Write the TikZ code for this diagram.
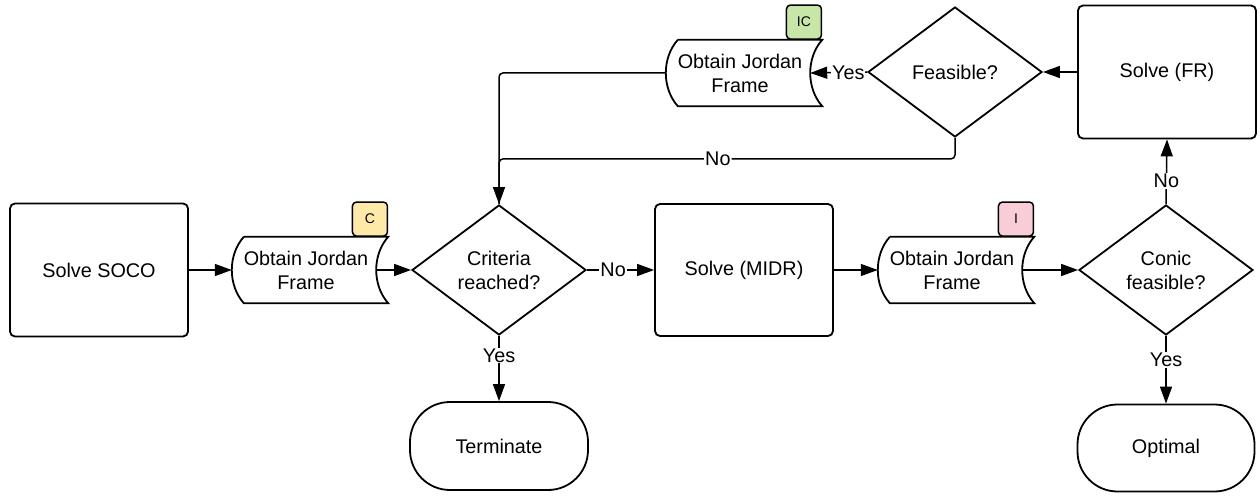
\documentclass[tikz,border=0pt]{standalone}
\usepackage{fontspec}
\setmainfont{Liberation Sans}
\usetikzlibrary{arrows.meta, shapes, positioning}

\definecolor{tagC}{HTML}{FFE9A8}
\definecolor{tagIC}{HTML}{C8E6A8}
\definecolor{tagI}{HTML}{F8CDD8}

\tikzset{
  box/.style={draw, line width=1.8pt, rounded corners=5pt, minimum width=178pt, minimum height=133pt, align=center},
  choice/.style={draw, diamond, aspect=1.34, line width=1.8pt, minimum width=174pt, minimum height=130pt, inner sep=0pt, align=center},
  stopbox/.style={draw, line width=1.8pt, rounded corners=40pt, minimum width=178pt, minimum height=88pt},
  jordan/.style={minimum width=148pt, minimum height=66pt, inner sep=0pt, align=center},
  tag/.style={draw, line width=1.5pt, rounded corners=4pt, minimum width=35pt, minimum height=34pt, anchor=south east, font=\fontsize{14}{14}\selectfont},
  flow/.style={line width=1.5pt, -{Triangle[length=17pt,width=12pt]}},
  lbl/.style={fill=white, inner sep=1pt}
}

\newcommand{\jordanframe}[1]{%
  \draw [line width=1.8pt] ([xshift=12pt]#1.north west) -- ([xshift=8pt]#1.north east)
    .. controls +(-16pt,-18pt) and +(-16pt,18pt) .. ([xshift=8pt]#1.south east)
    -- ([xshift=12pt]#1.south west)
    .. controls +(-16pt,18pt) and +(-16pt,-18pt) .. ([xshift=12pt]#1.north west);}

\begin{document}
\begin{tikzpicture}[x=1pt, y=1pt, font=\fontsize{19.8}{24}\selectfont]
\useasboundingbox (0,0) rectangle (1260,496);

\node [box] (soco) at (99,226) {Solve SOCO};
\node [jordan] (jordanC) at (306,226) {Obtain Jordan\\Frame};
\node [choice] (criteria) at (499,226) {Criteria\\reached?};
\node [box, minimum height=132pt] (midr) at (744,226) {Solve (MIDR)};
\node [jordan] (jordanI) at (952,226) {Obtain Jordan\\Frame};
\node [choice] (conic) at (1166,226) {Conic\\feasible?};
\node [stopbox, minimum width=177pt, minimum height=87pt] (optimal) at (1166,48) {Optimal};
\node [stopbox] (terminate) at (499,50) {Terminate};
\node [box] (solvefr) at (1167,424) {Solve (FR)};
\node [choice] (feasible) at (955,424) {Feasible?};
\node [jordan] (jordanIC) at (740,423) {Obtain Jordan\\Frame};

\jordanframe{jordanC}
\jordanframe{jordanI}
\jordanframe{jordanIC}

\node [tag, fill=tagC] (tC) at ([xshift=8pt]jordanC.north east) {C};
\node [tag, fill=tagI] (tI) at ([xshift=8pt]jordanI.north east) {I};
\node [tag, fill=tagIC] (tIC) at ([xshift=8pt]jordanIC.north east) {IC};

% main line
\draw [flow] (soco) -- (jordanC);
\draw [flow] ([xshift=-4pt]jordanC.east) -- (criteria.west);
\draw [flow] (criteria.east) -- node [lbl, pos=0.39] {No} (midr.west);
\draw [flow] (midr.east) -- (jordanI.west);
\draw [flow] ([xshift=-4pt]jordanI.east) -- (conic.west);
\draw [flow] (conic.south) -- node [lbl, pos=0.36] {Yes} (optimal.north);
\draw [flow] (criteria.south) -- node [lbl, pos=0.3] {Yes} (terminate.north);

% loop back
\draw [flow] (conic.north) -- node [lbl, pos=0.36] {No} (solvefr.south);
\draw [flow] (solvefr.west) -- (feasible.east);
\draw [flow] (feasible.west) -- node [lbl, pos=0.33] {Yes} ([xshift=-4pt]jordanIC.east);
\draw [line width=1.5pt, rounded corners=4pt] (feasible.south) -- ++(0,-21) -| node [lbl, pos=0.26] {No} (criteria.north);
\draw [flow, rounded corners=4pt] (jordanIC.west) -| (criteria.north);
\end{tikzpicture}
\end{document}
